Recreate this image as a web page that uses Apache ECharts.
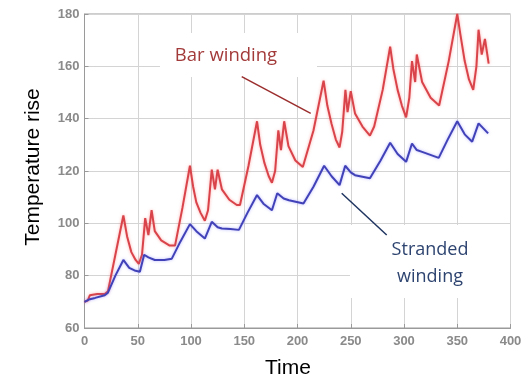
<!DOCTYPE html>
<html>
<head>
<meta charset="utf-8">
<script src="https://cdn.jsdelivr.net/npm/echarts@6/dist/echarts.min.js"></script>
<style>
html,body{margin:0;padding:0;background:#fff;}
#chart{width:529px;height:378px;}
</style>
</head>
<body>
<div id="chart"></div>
<script>
// Bar winding (red)
var barTime = [0, 3, 5, 12, 19, 22, 29, 36.5, 40, 44, 48, 51, 54, 57, 60, 63, 66, 72, 80, 85, 92, 99, 102, 105, 109, 113, 116, 119.5, 122.5, 125, 129, 136, 143, 146, 154, 162, 165, 169, 173, 176, 179, 182, 184.5, 187.5, 191.5, 198, 205, 215, 224.5, 228, 232, 236, 239.5, 242, 245, 247, 250, 254, 261, 268, 272, 280, 287, 290, 294, 298, 302, 305, 307.5, 310.5, 312, 317, 325, 333, 342, 350, 353, 357, 361, 365, 368, 370, 373, 376, 379.5];
var barValues = [70, 70.5, 72.5, 73, 73, 74, 88, 103, 95, 89, 86, 84.5, 88, 102, 95.5, 105, 97, 93.5, 91.5, 91.5, 106, 122, 114, 108, 104, 101, 105, 120.5, 113, 120.5, 113, 109, 107, 107, 122, 139, 130, 123, 118, 115.5, 120, 135.5, 128, 139, 129.5, 124, 121.5, 135.5, 154.5, 145, 138, 132, 129, 135, 151, 142.5, 150.5, 142, 137, 133.5, 137, 151, 167.5, 159, 151, 145, 140.5, 148, 162, 154, 164.5, 154, 148, 145, 162, 180, 172, 162, 155, 151, 160, 174, 164.5, 170.5, 161];
// Stranded winding (blue)
var strandTime = [0, 5, 10, 19, 22, 29, 36.5, 42, 47, 52, 56, 60, 66, 75, 82, 90, 99, 105, 113, 119.5, 125, 129, 137, 145, 153, 162, 168, 176, 181, 187, 192, 205.6, 215, 225, 232, 239.5, 244.8, 250, 254, 268, 278, 287, 294, 302, 307.5, 312, 317, 332.6, 341, 350, 357, 364, 370, 379];
var strandValues = [70, 71, 71.5, 72.5, 73.5, 80, 86, 83, 82, 81.5, 88, 87, 86, 86, 86.5, 93, 99.7, 97, 94.2, 100.6, 98.5, 98, 97.8, 97.5, 104, 110.8, 107.5, 105, 111.5, 109.5, 108.8, 107.6, 114, 122, 118, 114.6, 122, 119.5, 118.4, 117.2, 124, 130.8, 126.5, 123.5, 130.5, 128, 127.3, 125, 132, 139, 134, 131.2, 138.2, 134.4];
var xTicks = [0, 50, 100, 150, 200, 250, 300, 350, 400];
var yTicks = [60, 80, 100, 120, 140, 160, 180];

function pairs(t, v) { return t.map(function (x, i) { return [x, v[i]]; }); }

var chart = echarts.init(document.getElementById('chart'), null, {renderer: 'canvas'});
var labelStyle = {color: '#8a8a8a', fontSize: 13, fontWeight: 'bold', fontFamily: 'Liberation Sans, Arial, sans-serif'};
chart.setOption({
  animation: false,
  backgroundColor: '#ffffff',
  grid: {left: 84.5, right: 18.5, top: 14, bottom: 50, show: true, borderColor: '#9a9a9a', borderWidth: 1, backgroundColor: 'transparent'},
  xAxis: {
    type: 'value', min: xTicks[0], max: xTicks[xTicks.length - 1], interval: 50,
    axisLine: {show: true, onZero: false, lineStyle: {color: '#9a9a9a', width: 1}},
    axisTick: {show: true, inside: true, length: 4, lineStyle: {color: '#9a9a9a'}},
    axisLabel: Object.assign({margin: 7}, labelStyle),
    splitLine: {show: true, lineStyle: {color: '#d4d4d4', width: 1}}
  },
  yAxis: {
    type: 'value', min: yTicks[0], max: yTicks[yTicks.length - 1], interval: 20,
    axisLine: {show: true, onZero: false, lineStyle: {color: '#9a9a9a', width: 1}},
    axisTick: {show: true, inside: true, length: 4, lineStyle: {color: '#9a9a9a'}},
    axisLabel: Object.assign({margin: 5}, labelStyle),
    splitLine: {show: true, lineStyle: {color: '#d4d4d4', width: 1}}
  },
  series: [
    {
      name: 'Bar winding', type: 'line', data: pairs(barTime, barValues), showSymbol: false, z: 3,
      lineStyle: {color: '#d8444a', width: 2, shadowColor: 'rgba(255,100,100,0.55)', shadowBlur: 3}
    },
    {
      name: 'Stranded winding', type: 'line', data: pairs(strandTime, strandValues), showSymbol: false, z: 3,
      lineStyle: {color: '#4242b8', width: 2, shadowColor: 'rgba(110,110,255,0.5)', shadowBlur: 3}
    }
  ],
  graphic: [
    {type: 'rect', z: 10, shape: {x: 160, y: 33, width: 157, height: 44}, style: {fill: '#ffffff'}},
    {type: 'text', z: 11, style: {x: 226, y: 56, text: 'Bar winding', fill: '#a33a3a', font: '18.5px "Open Sans", sans-serif', textAlign: 'center', textVerticalAlign: 'middle'}},
    {type: 'line', z: 11, shape: {x1: 241.7, y1: 76.7, x2: 310.7, y2: 113.3}, style: {stroke: '#9b2d2d', lineWidth: 1.5}},
    {type: 'rect', z: 10, shape: {x: 350, y: 225, width: 160, height: 73}, style: {fill: '#ffffff'}},
    {type: 'text', z: 11, style: {x: 430, y: 250, text: 'Stranded', fill: '#2e4470', font: '18px "Open Sans", sans-serif', textAlign: 'center', textVerticalAlign: 'middle'}},
    {type: 'text', z: 11, style: {x: 430, y: 277, text: 'winding', fill: '#2e4470', font: '18px "Open Sans", sans-serif', textAlign: 'center', textVerticalAlign: 'middle'}},
    {type: 'line', z: 11, shape: {x1: 341.7, y1: 193.3, x2: 386.7, y2: 235}, style: {stroke: '#1f3560', lineWidth: 1.5}},
    {type: 'text', z: 11, style: {x: 288, y: 368, text: 'Time', fill: '#000000', font: '21px "Liberation Sans", Arial, sans-serif', textAlign: 'center', textVerticalAlign: 'middle'}},
    {type: 'text', z: 11, rotation: Math.PI / 2, x: 33, y: 167, style: {x: 0, y: 0, text: 'Temperature rise', fill: '#000000', font: '21px "Liberation Sans", Arial, sans-serif', textAlign: 'center', textVerticalAlign: 'middle'}}
  ]
});
</script>
</body>
</html>
